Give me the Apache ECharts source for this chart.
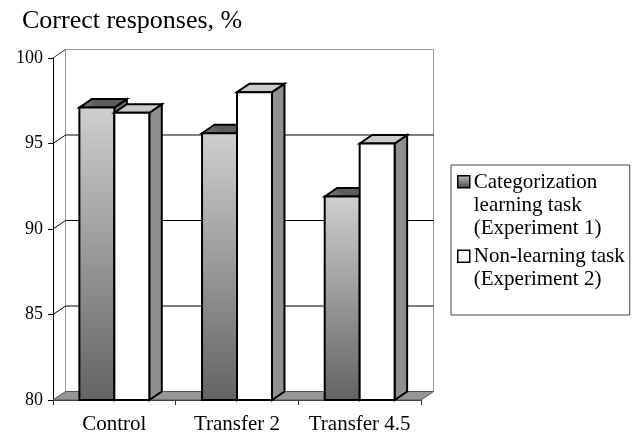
<!DOCTYPE html>
<html>
<head>
<meta charset="UTF-8"/>
<title>Correct responses</title>
<script src="https://cdn.jsdelivr.net/npm/echarts@6/dist/echarts.min.js"></script>
<style>
html,body{margin:0;padding:0;background:#fff;}
#main{width:636px;height:437px;}
</style>
</head>
<body>
<div id="main"></div>
<script type="text/javascript">
var categories = ['Control', 'Transfer 2', 'Transfer 4.5'];
var learning = [97.1, 95.6, 91.9];
var nonLearning = [96.8, 98.0, 95.0];
var yTicks = [80, 85, 90, 95, 100];
var seriesNames = ['Categorization learning task (Experiment 1)', 'Non-learning task (Experiment 2)'];
var legendLabels = ['Categorization\nlearning task\n(Experiment 1)', 'Non-learning task\n(Experiment 2)\n'];

var font = '"Liberation Serif","Times New Roman",serif';
// depth of the fake 3d box
var dx = 12.5, dy = -8.5;

function vGrad(stops){
	return {type:'linear', x:0, y:0, x2:0, y2:1, colorStops:stops};
}
var frontGrad = vGrad([{offset:0,color:'#cfcfcf'},{offset:1,color:'#636363'}]);
var topGrad = {type:'linear', x:0, y:1, x2:0.3, y2:0, colorStops:[{offset:0,color:'#8a8a8a'},{offset:1,color:'#5c5c5c'}]};
var iconGrad = vGrad([{offset:0,color:'#c0c0c0'},{offset:0.08,color:'#c0c0c0'},{offset:0.25,color:'#4a4a4a'},{offset:1,color:'#4a4a4a'}]);
// legend square sits on the first text line, the empty part of the path keeps the item height
var legendIcon = 'path://M0 0H0 M0 5H12V17H0Z M0 69H0';

function poly(points, fill, stroke, width){
	return {type:'polygon', shape:{points:points}, style:{fill:fill, stroke:stroke, lineWidth:width, lineJoin:'miter'}};
}
function line(x1, y1, x2, y2, color, width){
	return {type:'line', shape:{x1:x1,y1:y1,x2:x2,y2:y2}, style:{stroke:color, lineWidth:width}};
}

function renderWall(params, api){
	var cs = params.coordSys;
	var left = cs.x, right = cs.x + cs.width, bottom = cs.y + cs.height, top = cs.y;
	var val = api.value(1);
	var y = api.coord([0, val])[1];
	var kids = [];
	if(params.dataIndex === 0){
		kids.push(poly([[left+dx,top+dy],[right+dx,top+dy],[right+dx,bottom+dy],[left+dx,bottom+dy]], '#fff', '#999', 1));
		kids.push(poly([[left,bottom],[right,bottom],[right+dx,bottom+dy],[left+dx,bottom+dy]], '#969696', '#555', 1));
	}else{
		var c = val === 100 ? '#333' : '#000';
		if(val !== 100) kids.push(line(left+dx, y+dy, right+dx, y+dy, c, 1));
		kids.push(line(left, y, left+dx, y+dy, c, 1));
	}
	return {type:'group', children:kids};
}

function renderBar(params, api){
	var p = api.coord([api.value(0), api.value(1)]);
	var base = api.coord([api.value(0), 80]);
	var w = api.size([1, 0])[0] * 0.285;
	var x0 = params.seriesIndex === 1 ? p[0] - w : p[0];
	var x1 = x0 + w, y0 = p[1], yb = base[1];
	var isLearning = params.seriesIndex === 1;
	var b = 2;
	return {type:'group', children:[
		poly([[x1,y0],[x1+dx,y0+dy],[x1+dx,yb+dy],[x1,yb]], isLearning ? '#6e6e6e' : '#8f8f8f', '#000', b),
		poly([[x0,y0],[x0+dx,y0+dy],[x1+dx,y0+dy],[x1,y0]], isLearning ? topGrad : '#cacaca', '#000', b),
		poly([[x0,y0],[x1,y0],[x1,yb],[x0,yb]], isLearning ? frontGrad : '#fff', '#000', b)
	]};
}

var myChart = echarts.init(document.getElementById('main'));
var option = {
	animation: false,
	backgroundColor: '#fff',
	title: {
		text: 'Correct responses, %',
		left: 17,
		top: 3,
		textStyle: {fontFamily:font, fontSize:26, fontWeight:'normal', color:'#000'}
	},
	grid: {left:53, right:215, top:58, bottom:37},
	legend: {
		orient: 'vertical',
		left: 451,
		top: 165,
		padding: [5, 5, 0, 6],
		itemGap: 4,
		itemWidth: 12,
		itemHeight: 69,
		backgroundColor: '#fff',
		borderColor: '#444',
		borderWidth: 1,
		borderRadius: 0,
		selectedMode: false,
		formatter: function(name){
			return legendLabels[seriesNames.indexOf(name)];
		},
		textStyle: {fontFamily:font, fontSize:21, lineHeight:23, color:'#000', padding:[0,0,0,-1]},
		data: [
			{name:seriesNames[0], icon:legendIcon, itemStyle:{color:iconGrad, borderColor:'#000', borderWidth:1.5}},
			{name:seriesNames[1], icon:legendIcon, itemStyle:{color:'#fff', borderColor:'#000', borderWidth:1.5}}
		]
	},
	xAxis: {
		type: 'category',
		data: categories,
		axisLine: {lineStyle:{color:'#333', width:1}},
		axisTick: {show:true, length:5, alignWithLabel:false, lineStyle:{color:'#333'}},
		axisLabel: {fontFamily:font, fontSize:21, color:'#000', margin:14, interval:0}
	},
	yAxis: {
		type: 'value',
		min: 80,
		max: 100,
		interval: 5,
		axisLine: {show:true, lineStyle:{color:'#000', width:1}},
		axisTick: {show:true, length:5, lineStyle:{color:'#000'}},
		axisLabel: {fontFamily:font, fontSize:18, color:'#000', margin:10},
		splitLine: {show:false}
	},
	series: [
		{
			type: 'custom',
			name: 'wall',
			z: 1,
			clip: false,
			silent: true,
			renderItem: renderWall,
			encode: {x:0, y:1},
			data: yTicks.map(function(v){ return [0, v]; })
		},
		{
			type: 'custom',
			name: seriesNames[0],
			z: 3,
			clip: false,
			renderItem: renderBar,
			encode: {x:0, y:1},
			data: learning.map(function(v, i){ return [i, v]; })
		},
		{
			type: 'custom',
			name: seriesNames[1],
			z: 3,
			clip: false,
			renderItem: renderBar,
			encode: {x:0, y:1},
			data: nonLearning.map(function(v, i){ return [i, v]; })
		}
	]
};
myChart.setOption(option);
</script>
</body>
</html>
